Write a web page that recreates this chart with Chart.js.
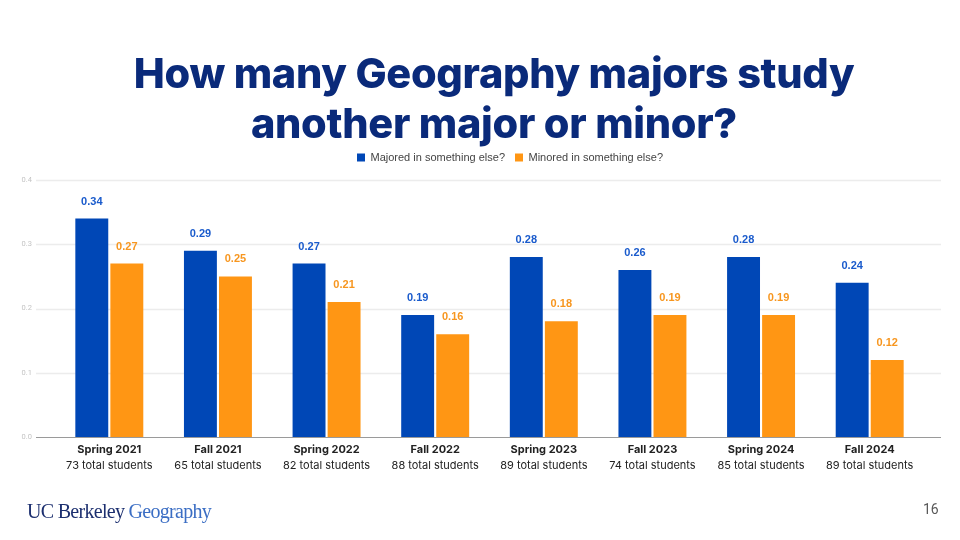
<!DOCTYPE html>
<html>
<head>
<meta charset="utf-8">
<script src="https://cdn.jsdelivr.net/npm/chart.js@4.4.1/dist/chart.umd.min.js"></script>
<style>
  html, body { margin: 0; padding: 0; background: #fff; }
  #page { position: relative; width: 960px; height: 540px; overflow: hidden; }
  #title {
    position: absolute; left: 0; top: 48px; width: 988px; text-align: center;
    font-family: Inter, sans-serif; font-weight: 800; font-size: 41.5px; line-height: 50px;
    color: #0a2a7a; letter-spacing: -0.3px;
  }
  #chartBox { position: absolute; left: 0; top: 0; width: 960px; height: 540px; }
  #logo {
    position: absolute; left: 27px; top: 500px; font-family: "Liberation Serif", serif;
    font-size: 20px; letter-spacing: -0.7px; color: #1c2f6f;
  }
  #logo span { color: #3b6ec4; }
  #pageNo {
    position: absolute; left: 923px; top: 501px; font-family: Roboto, sans-serif;
    font-size: 14px; color: #595959;
  }
</style>
</head>
<body>
<div id="page">
  <div id="chartBox"><canvas id="dataChart" width="960" height="540"></canvas></div>
  <div id="title">How many Geography majors study<br>another major or minor?</div>
  <div id="logo">UC Berkeley <span>Geography</span></div>
  <div id="pageNo">16</div>
</div>
<script>
const terms = ['Spring 2021', 'Fall 2021', 'Spring 2022', 'Fall 2022', 'Spring 2023', 'Fall 2023', 'Spring 2024', 'Fall 2024'];
const totals = ['73 total students', '65 total students', '82 total students', '88 total students',
                '89 total students', '74 total students', '85 total students', '89 total students'];
const majored = [0.34, 0.29, 0.27, 0.19, 0.28, 0.26, 0.28, 0.24];
const minored = [0.27, 0.25, 0.21, 0.16, 0.18, 0.19, 0.19, 0.12];
const yTicks = [0.0, 0.1, 0.2, 0.3, 0.4];

const blue = '#0047b6';
const orange = '#ff9614';
const labelColors = ['#1a5bcc', '#f7961f'];

// gridlines run wider than the bars, so draw them ourselves off the y scale
const wideGrid = {
    id: 'wideGrid',
    beforeDatasetsDraw(chart) {
        const ctx = chart.ctx, y = chart.scales.y;
        ctx.save();
        yTicks.forEach(v => {
            const py = Math.round(y.getPixelForValue(v)) + 0.5;
            ctx.beginPath();
            ctx.strokeStyle = v === 0 ? '#9a9a9a' : '#ececec';
            ctx.lineWidth = v === 0 ? 1.2 : 1.5;
            ctx.moveTo(36, py);
            ctx.lineTo(941, py);
            ctx.stroke();
        });
        ctx.restore();
    }
};

// legend sits a bit right of centre in the original
const legendShift = {
    id: 'legendShift',
    afterLayout(chart) {
        chart.legend.left += 48;
        chart.legend.right += 48;
    }
};

// value labels above each bar
const barValues = {
    id: 'barValues',
    afterDatasetsDraw(chart) {
        const ctx = chart.ctx;
        ctx.save();
        ctx.font = 'bold 11px "Liberation Sans", Arial, sans-serif';
        ctx.textAlign = 'center';
        ctx.textBaseline = 'middle';
        chart.data.datasets.forEach((ds, i) => {
            ctx.fillStyle = labelColors[i];
            chart.getDatasetMeta(i).data.forEach((bar, j) => {
                ctx.fillText(ds.data[j].toFixed(2), bar.x, bar.y - 17);
            });
        });
        ctx.restore();
    }
};

const ctx = document.getElementById('dataChart').getContext('2d');
const chartObj = new Chart(ctx, {
    type: 'bar',
    data: {
        labels: terms,
        datasets: [{
            label: 'Majored in something else?',
            data: majored,
            backgroundColor: blue,
            categoryPercentage: 0.645,
            barPercentage: 0.94,
        }, {
            label: 'Minored in something else?',
            data: minored,
            backgroundColor: orange,
            categoryPercentage: 0.645,
            barPercentage: 0.94,
        }]
    },
    options: {
        responsive: false,
        animation: false,
        layout: { padding: { top: 142, right: 36, bottom: 63, left: 0 } },
        plugins: {
            legend: {
                position: 'top',
                labels: {
                    boxWidth: 8, boxHeight: 8, padding: 10,
                    color: '#444',
                    font: { family: '"Liberation Sans", Arial, sans-serif', size: 11 }
                }
            },
            tooltip: { enabled: false },
        },
        scales: {
            y: {
                min: 0, max: 0.4,
                grid: { display: false },
                border: { display: false },
                afterFit(scale) { scale.width = 55; },
                afterBuildTicks(scale) { scale.ticks = yTicks.map(v => ({ value: v })); },
                ticks: {
                    padding: 15,
                    color: '#c4c4c4',
                    font: { family: 'Roboto, sans-serif', size: 7.5 },
                    callback: v => v.toFixed(1)
                }
            },
            // empty spacer between the legend and the plot
            xTop: {
                type: 'category',
                labels: terms,
                position: 'top',
                grid: { display: false, drawTicks: false },
                border: { display: false },
                ticks: { display: false },
                afterFit(scale) { scale.height = 7; }
            },
            x: {
                grid: { display: false, drawTicks: false },
                border: { display: false },
                afterFit(scale) { scale.height = 20; },
                ticks: {
                    padding: 6, maxRotation: 0, autoSkip: false,
                    color: '#222',
                    font: { family: 'Inter, sans-serif', size: 11, weight: 'bold' }
                }
            },
            x2: {
                type: 'category',
                labels: totals,
                position: 'bottom',
                grid: { display: false, drawTicks: false },
                border: { display: false },
                afterFit(scale) { scale.height = 20; },
                ticks: {
                    padding: 2, maxRotation: 0, autoSkip: false,
                    color: '#222',
                    font: { family: 'Inter, sans-serif', size: 11 }
                }
            }
        }
    },
    plugins: [wideGrid, legendShift, barValues]
});
</script>
</body>
</html>
